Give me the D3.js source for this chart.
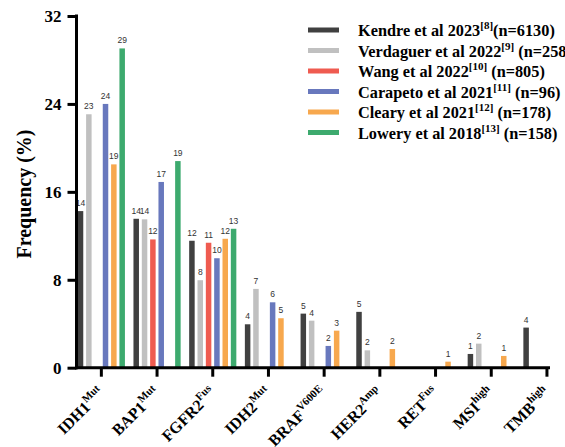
<!DOCTYPE html>
<html>
<head>
<meta charset="utf-8">
<script src="https://cdn.jsdelivr.net/npm/d3@7/dist/d3.min.js"></script>
<style>
  html, body { margin: 0; padding: 0; background: #fff; }
  svg { display: block; }
  .serif { font-family: "Liberation Serif", "Times New Roman", "DejaVu Serif", serif; font-weight: bold; }
  .sans { font-family: "Liberation Sans", Arial, sans-serif; }
</style>
</head>
<body>
<svg id="chart" width="565" height="447"></svg>
<script>
// ---- Data ----
const categories = ["IDH1", "BAP1", "FGFR2", "IDH2", "BRAF", "HER2", "RET", "MSI", "TMB"];
const categorySups = ["Mut", "Mut", "Fus", "Mut", "V600E", "Amp", "Fus", "high", "high"];

const seriesNames = ["Kendre et al 2023", "Verdaguer et al 2022", "Wang et al 2022", "Carapeto et al 2021", "Cleary et al 2021", "Lowery et al 2018"];
const seriesRefs = ["[8]", "[9]", "[10]", "[11]", "[12]", "[13]"];
const seriesN = ["(n=6130)", " (n=258)", " (n=805)", " (n=96)", " (n=178)", " (n=158)"];
const seriesColors = ["#404040", "#c0c0c0", "#ef5b50", "#6878bd", "#f7a84e", "#3daa6e"];

const kendre    = [14.25, 13.55, 11.55, 3.95, 4.92, 5.08, null, 1.25, 3.65];
const verdaguer = [23.06, 13.5, 7.96, 7.17, 4.28, 1.58, null, 2.19, null];
const wang      = [null, 11.67, 11.37, null, null, null, null, null, null];
const carapeto  = [24.0, 16.9, 9.96, 5.95, 1.98, null, null, null, null];
const cleary    = [18.5, null, 11.73, 4.5, 3.37, 1.7, 0.55, 1.07, null];
const lowery    = [29.05, 18.8, 12.64, null, null, null, null, null, null];
const seriesValues = [kendre, verdaguer, wang, carapeto, cleary, lowery];

const yTicks = [0, 8, 16, 24, 32];

// ---- Scales ----
const svg = d3.select("#chart");
const x = d3.scaleBand().domain(categories).range([73.5, 73.5 + 9 * 55.7]).paddingInner(0).paddingOuter(0);
const xs = d3.scaleBand().domain(d3.range(seriesNames.length)).range([0, 50]).paddingInner(0.34).paddingOuter(0.17);
const groupOffset = (x.bandwidth() - 50) / 2;
const y = d3.scaleLinear().domain([0, 32]).range([367.7, 16]);

// ---- Bars ----
const barData = [];
seriesValues.forEach((vals, s) => {
  vals.forEach((v, c) => {
    if (v != null) barData.push({ s, c: categories[c], v });
  });
});

svg.append("g").selectAll("rect").data(barData).join("rect")
  .attr("x", d => x(d.c) + groupOffset + xs(d.s))
  .attr("y", d => y(d.v))
  .attr("width", xs.bandwidth())
  .attr("height", d => y(0) - y(d.v))
  .attr("fill", d => seriesColors[d.s]);

svg.append("g").selectAll("text").data(barData).join("text")
  .attr("class", "sans")
  .attr("x", d => x(d.c) + groupOffset + xs(d.s) + xs.bandwidth() / 2)
  .attr("y", d => y(d.v) - 5)
  .attr("text-anchor", "middle")
  .style("font-size", "8.5px")
  .attr("fill", "#333")
  .text(d => Math.round(d.v));

// ---- Y axis ----
const yAxis = d3.axisLeft(y).tickValues(yTicks).tickSize(9).tickPadding(6);
const gy = svg.append("g").attr("transform", "translate(76.5,0)").call(yAxis);
gy.attr("font-family", null).attr("font-size", null);
gy.select(".domain").remove();
gy.selectAll(".tick line").attr("stroke", "#000").attr("stroke-width", 3);
gy.selectAll(".tick text").attr("class", "serif").style("font-size", "17px").attr("fill", "#000");
svg.append("line").attr("x1", 76.5).attr("x2", 76.5).attr("y1", y(32) - 1.5).attr("y2", y(0) + 1.5)
  .attr("stroke", "#000").attr("stroke-width", 3);

svg.append("text")
  .attr("class", "serif")
  .attr("transform", "translate(31,194) rotate(-90)")
  .attr("text-anchor", "middle")
  .style("font-size", "20px")
  .text("Frequency (%)");

// ---- X axis ----
const xAxis = d3.axisBottom(x).tickSize(9).tickFormat("");
const gx = svg.append("g").attr("transform", "translate(0," + y(0) + ")").call(xAxis);
gx.select(".domain").remove();
gx.selectAll(".tick line").attr("stroke", "#000").attr("stroke-width", 3);
svg.append("line").attr("x1", 75).attr("x2", 550).attr("y1", y(0)).attr("y2", y(0))
  .attr("stroke", "#000").attr("stroke-width", 3);

const xl = svg.append("g").selectAll("text").data(categories).join("text")
  .attr("class", "serif")
  .attr("transform", d => "translate(" + (x(d) + x.bandwidth() / 2 + 4) + ",394) rotate(-45)")
  .attr("text-anchor", "end")
  .style("font-size", "16px");
xl.append("tspan").text(d => d);
xl.append("tspan").style("font-size", "11px").attr("dy", -7).text((d, i) => categorySups[i]);

// ---- Legend ----
const lg = svg.append("g").selectAll("g").data(seriesNames).join("g")
  .attr("transform", (d, i) => "translate(308," + (30 + i * 20.5) + ")");
lg.append("rect").attr("x", 0).attr("y", -2.5).attr("width", 31).attr("height", 5)
  .attr("fill", (d, i) => seriesColors[i]);
const lt = lg.append("text").attr("class", "serif").attr("x", 50).attr("y", 6)
  .style("font-size", "16.3px").attr("fill", "#000");
lt.append("tspan").text(d => d);
lt.append("tspan").style("font-size", "11px").attr("dy", -7).text((d, i) => seriesRefs[i]);
lt.append("tspan").attr("dy", 7).text((d, i) => seriesN[i]);
</script>
</body>
</html>
